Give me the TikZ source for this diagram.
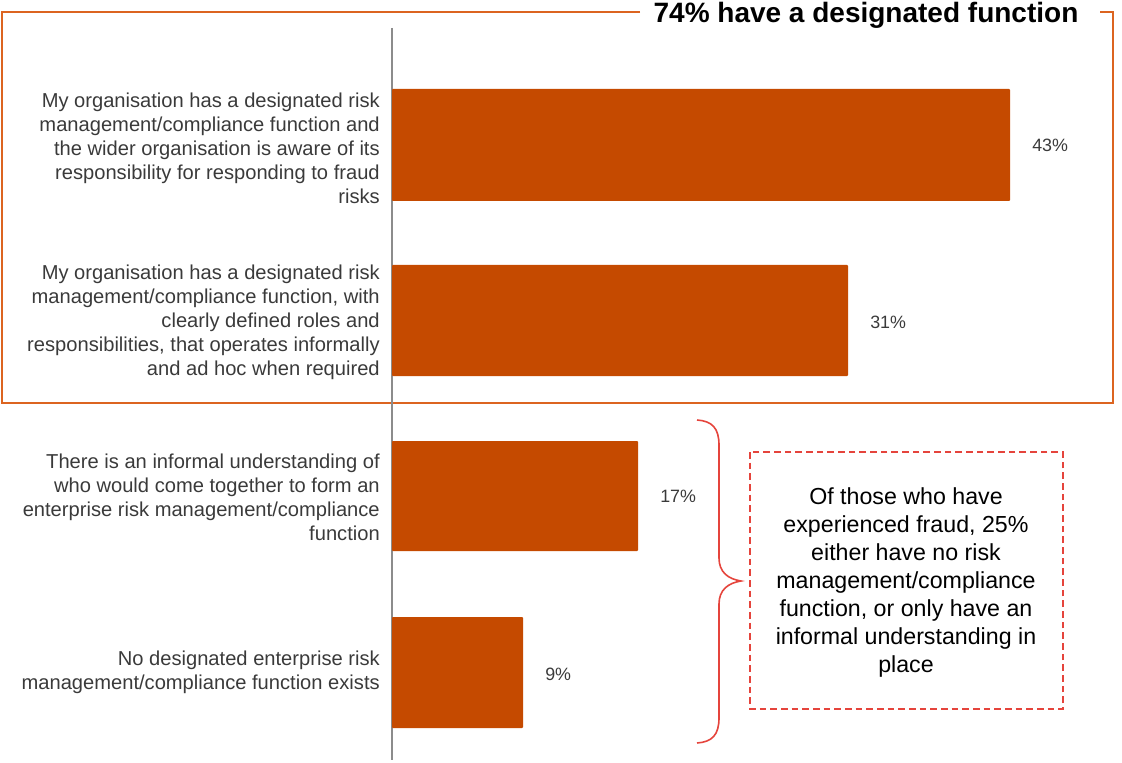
\documentclass[tikz,border=0pt]{standalone}
\usepackage{fontspec}
\setmainfont{Liberation Sans}
\usepackage{tikz}
\usetikzlibrary{calc}
\definecolor{barorange}{HTML}{C54A00}
\definecolor{frameorange}{HTML}{DC6420}
\definecolor{notered}{HTML}{E5443C}
\definecolor{labelgray}{HTML}{3A3A3A}
\tikzset{
	bar/.style={fill=barorange, rounded corners=0.6pt},
	rowlabel/.style={anchor=east, align=right, inner sep=0pt, text=labelgray, font=\fontsize{15.1}{18}\selectfont},
	pct/.style={anchor=west, inner sep=0pt, text=labelgray, font=\fontsize{13.4}{16}\selectfont},
}

\begin{document}
\begin{tikzpicture}[x=0.75pt, y=-0.75pt]
			%%%%% START %%%%%
			\useasboundingbox (0, 0) rectangle (1122, 763);
			
			\draw[line width=1.5pt, color=frameorange] (640, 12) -- (2, 12) -- (2, 403) -- (1113, 403) -- (1113, 12) -- (1100, 12);
			\node[inner sep=0pt, font=\bfseries\fontsize{21}{25}\selectfont] (title) at (866, 15) {74\% have a designated function};
			
			\draw[line width=1.2pt, color=black!45] (392, 28) -- (392, 760);
			
			\fill[bar] (392, 89) rectangle (1010, 201);
			\fill[bar] (392, 265) rectangle (848, 376);
			\fill[bar] (392, 441) rectangle (638, 551);
			\fill[bar] (392, 617) rectangle (523, 728);
			
			\node[rowlabel] (lab1) at (380, 148) {My organisation has a designated risk\\management/compliance function and\\the wider organisation is aware of its\\responsibility for responding to fraud\\risks};
			\node[rowlabel] (lab2) at (380, 322) {My organisation has a designated risk\\management/compliance function, with\\clearly defined roles and\\responsibilities, that operates informally\\and ad hoc when required};
			\node[rowlabel] (lab3) at (380, 497) {There is an informal understanding of\\who would come together to form an\\enterprise risk management/compliance\\function};
			\node[rowlabel] (lab4) at (380, 672) {No designated enterprise risk\\management/compliance function exists};
			
			\node[pct] (val1) at (1032, 145) {43\%};
			\node[pct] (val2) at (870, 322) {31\%};
			\node[pct] (val3) at (660, 496) {17\%};
			\node[pct] (val4) at (545, 674) {9\%};
			
			\draw[line width=1.2pt, color=notered] (697, 420) .. controls (712, 421) and (719, 428) .. (719, 445) -- (719, 558) .. controls (719, 572) and (728, 579) .. (741, 581) .. controls (728, 583) and (719, 590) .. (719, 604) -- (719, 718) .. controls (719, 735) and (712, 742) .. (697, 743);
			
			\draw[line width=1.2pt, color=notered, dash pattern=on 5pt off 3pt] (750, 452) rectangle (1063, 709);
			\node[align=center, inner sep=0pt, font=\fontsize{17.4}{21}\selectfont] (note) at (906, 582) {Of those who have\\experienced fraud, 25\%\\either have no risk\\management/compliance\\function, or only have an\\informal understanding in\\place};
			%%%%% END %%%%%
\end{tikzpicture}
\end{document}
